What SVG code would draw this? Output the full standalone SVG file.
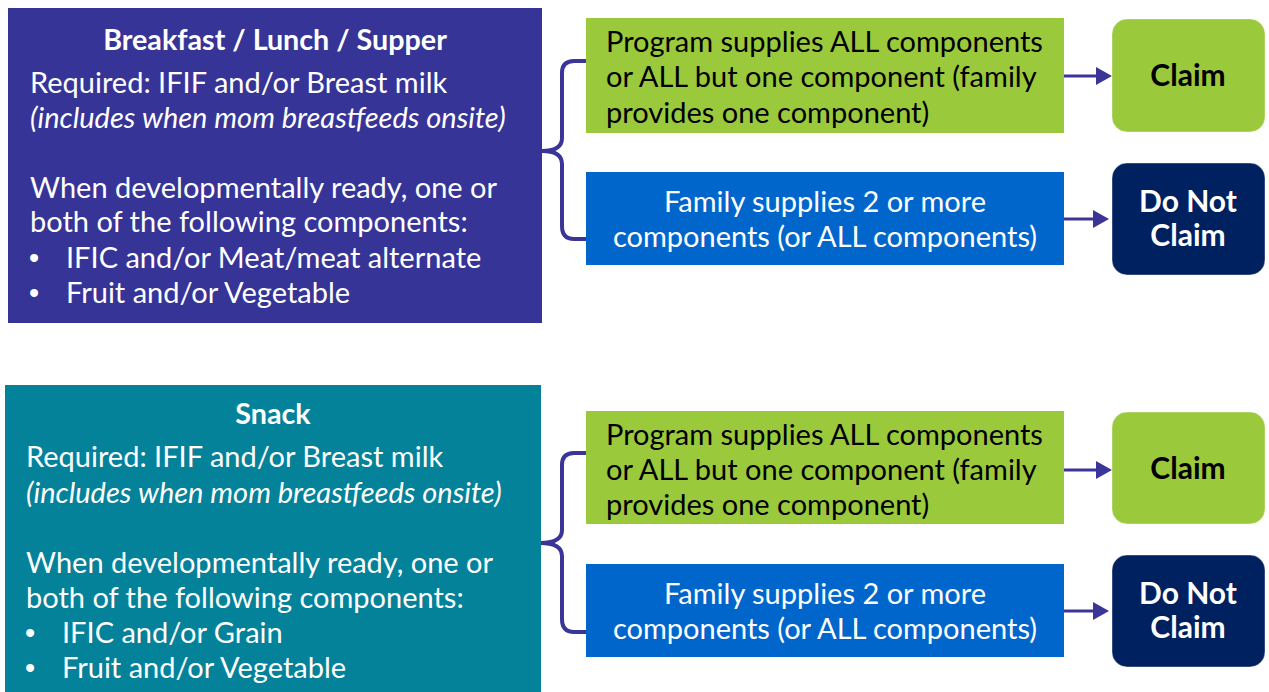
<svg xmlns="http://www.w3.org/2000/svg" width="1269" height="692" viewBox="0 0 1269 692">
<style>
  text { font-family: Lato, "Open Sans", "Liberation Sans", sans-serif; font-size: 29px; }
  .w { fill: #ffffff; }
  .k { fill: #000000; }
  .b { font-weight: bold; }
  .i { font-style: italic; }
  .c { text-anchor: middle; }
  .bul { font-family: "Liberation Sans", Arial, sans-serif; font-size: 29px; }
  .meal1 { fill: #373497; }
  .meal2 { fill: #04829A; }
  .green { fill: #9BC93C; }
  .blue { fill: #0066CC; }
  .navy { fill: #00215F; }
  .rnd { stroke: #ffffff; stroke-opacity: 0.4; stroke-width: 1; }
  .brace { fill: none; stroke: #3A3597; stroke-width: 4; stroke-linecap: round; stroke-linejoin: round; }
  .arr { fill: none; stroke: #3A3597; stroke-width: 3; }
  .head { fill: #3A3597; }
  .tb { font-size: 28.7px; }
  .cb { font-size: 30px; }
</style>

<g id="connectors">
  <path class="brace" d="M586,61 H574 Q562,61 562,73 V138 Q562,151 542,151 Q562,151 562,164 V226 Q562,239 574,239 H586"/>
  <path class="brace" d="M586,453 H574 Q562,453 562,465 V530 Q562,543 540,543 Q562,543 562,556 V619 Q562,632 574,632 H586"/>
  <line class="arr" x1="1064" y1="76" x2="1097" y2="76"/>
  <polygon class="head" points="1096,67 1112,76 1096,85"/>
  <line class="arr" x1="1064" y1="219" x2="1094" y2="219"/>
  <polygon class="head" points="1093,210 1109,219 1093,228"/>
  <line class="arr" x1="1064" y1="470" x2="1097" y2="470"/>
  <polygon class="head" points="1096,461 1112,470 1096,479"/>
  <line class="arr" x1="1064" y1="611" x2="1094" y2="611"/>
  <polygon class="head" points="1093,602 1109,611 1093,620"/>
</g>

<g id="meal-bls">
  <rect class="meal1" x="8" y="8" width="534" height="315"/>
  <text class="w b c tb" x="275" y="50">Breakfast / Lunch / Supper</text>
  <text class="w" x="30" y="93">Required: IFIF and/or Breast milk</text>
  <text class="w i" x="30" y="128">(includes when mom breastfeeds onsite)</text>
  <text class="w" x="30" y="198">When developmentally ready, one or</text>
  <text class="w" x="30" y="232">both of the following components:</text>
  <text class="w bul" x="29" y="268">•</text>
  <text class="w" x="66" y="268">IFIC and/or Meat/meat alternate</text>
  <text class="w bul" x="29" y="303">•</text>
  <text class="w" x="66" y="303">Fruit and/or Vegetable</text>
</g>

<g id="bls-program">
  <rect class="green" x="586" y="18" width="478" height="115"/>
  <text class="k" x="606" y="52">Program supplies ALL components</text>
  <text class="k" x="606" y="87">or ALL but one component (family</text>
  <text class="k" x="606" y="123">provides one component)</text>
</g>

<g id="bls-family">
  <rect class="blue" x="586" y="172" width="478" height="93"/>
  <text class="w c" x="825" y="212">Family supplies 2 or more</text>
  <text class="w c" x="825" y="247">components (or ALL components)</text>
</g>

<g id="bls-claim">
  <rect class="green rnd" x="1112" y="19" width="153" height="113" rx="15"/>
  <text class="k b c cb" x="1188" y="86">Claim</text>
</g>

<g id="bls-donotclaim">
  <rect class="navy rnd" x="1112" y="163" width="153" height="112" rx="15"/>
  <text class="w b c cb" x="1188" y="212">Do Not</text>
  <text class="w b c cb" x="1188" y="246">Claim</text>
</g>

<g id="meal-snack">
  <rect class="meal2" x="5" y="385" width="536" height="310"/>
  <text class="w b c tb" x="273" y="424">Snack</text>
  <text class="w" x="26" y="467">Required: IFIF and/or Breast milk</text>
  <text class="w i" x="26" y="503">(includes when mom breastfeeds onsite)</text>
  <text class="w" x="26" y="573">When developmentally ready, one or</text>
  <text class="w" x="26" y="608">both of the following components:</text>
  <text class="w bul" x="25" y="643">•</text>
  <text class="w" x="62" y="643">IFIC and/or Grain</text>
  <text class="w bul" x="25" y="678">•</text>
  <text class="w" x="62" y="678">Fruit and/or Vegetable</text>
</g>

<g id="snack-program">
  <rect class="green" x="586" y="411" width="478" height="113"/>
  <text class="k" x="606" y="445">Program supplies ALL components</text>
  <text class="k" x="606" y="480">or ALL but one component (family</text>
  <text class="k" x="606" y="515">provides one component)</text>
</g>

<g id="snack-family">
  <rect class="blue" x="586" y="564" width="478" height="93"/>
  <text class="w c" x="825" y="604">Family supplies 2 or more</text>
  <text class="w c" x="825" y="639">components (or ALL components)</text>
</g>

<g id="snack-claim">
  <rect class="green rnd" x="1112" y="412" width="153" height="112" rx="15"/>
  <text class="k b c cb" x="1188" y="479">Claim</text>
</g>

<g id="snack-donotclaim">
  <rect class="navy rnd" x="1112" y="555" width="153" height="112" rx="15"/>
  <text class="w b c cb" x="1188" y="604">Do Not</text>
  <text class="w b c cb" x="1188" y="638">Claim</text>
</g>
</svg>
